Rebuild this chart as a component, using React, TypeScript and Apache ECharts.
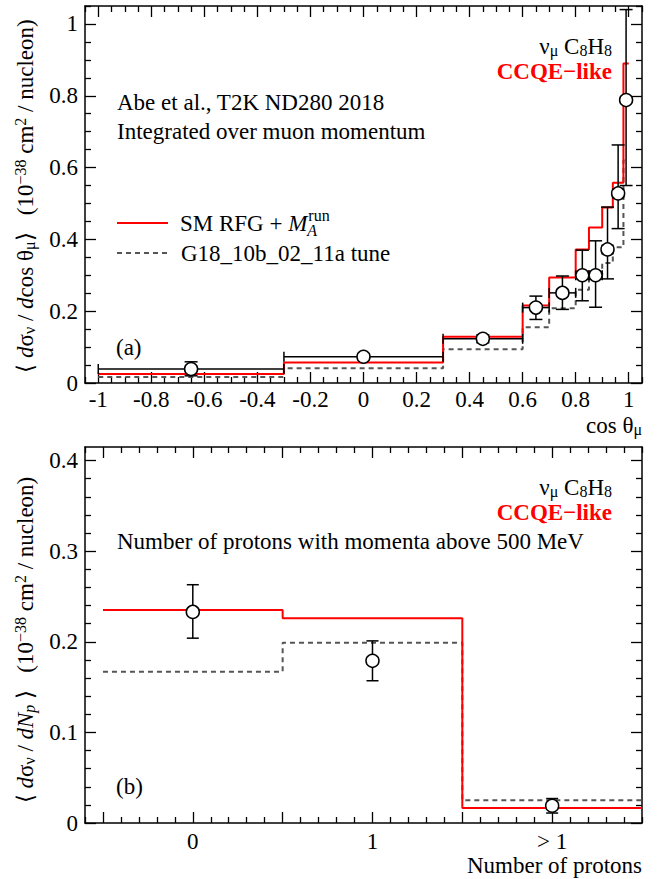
import React, { useEffect, useRef } from 'react';
import * as echarts from 'echarts';

// ---------- data: panel (a) cos theta_mu ----------
const cosEdges = [-1, -0.3, 0.3, 0.6, 0.7, 0.8, 0.85, 0.9, 0.94, 0.98, 1.0];
const cosSM = [0.025, 0.057, 0.129, 0.216, 0.294, 0.372, 0.433, 0.489, 0.558, 0.89];
const cosG18 = [0.017, 0.041, 0.094, 0.155, 0.208, 0.26, 0.3, 0.334, 0.378, 0.62];
const cosDataX = [-0.65, 0, 0.45, 0.65, 0.75, 0.825, 0.875, 0.92, 0.96, 0.99];
const cosDataY = [0.039, 0.073, 0.123, 0.21, 0.251, 0.3, 0.3, 0.372, 0.528, 0.788];
const cosDataLo = [0.02, 0.066, 0.112, 0.177, 0.205, 0.229, 0.211, 0.29, 0.43, 0.55];
const cosDataHi = [0.059, 0.08, 0.134, 0.242, 0.298, 0.37, 0.396, 0.49, 0.663, 1.04];
const cosXTicks = [-1, -0.8, -0.6, -0.4, -0.2, 0, 0.2, 0.4, 0.6, 0.8, 1];
const cosYTicks = [0, 0.2, 0.4, 0.6, 0.8, 1];

// ---------- data: panel (b) number of protons ----------
const npEdges = [-0.5, 0.5, 1.5, 2.5];
const npX = [0, 1, 2];
const npCats = ['0', '1', '> 1'];
const npSM = [0.235, 0.226, 0.0166];
const npG18 = [0.167, 0.199, 0.025];
const npDataY = [0.233, 0.179, 0.019];
const npDataLo = [0.204, 0.157, 0.011];
const npDataHi = [0.263, 0.201, 0.027];
const npXTicks = [-0.5, 0, 0.5, 1, 1.5, 2];
const npYTicks = [0, 0.1, 0.2, 0.3, 0.4];

const SERIF = 'Liberation Serif';
const FS = 23;
const TFS = 23;
const SFS = 16;

function steps(a: number, b: number, step: number): number[] {
  const out: number[] = [];
  const k0 = Math.ceil(a / step - 1e-9);
  const k1 = Math.floor(b / step + 1e-9);
  for (let k = k0; k <= k1; k++) out.push(+(k * step).toFixed(5));
  return out;
}
function minorOf(all: number[], major: number[]) {
  return all.filter((v) => !major.some((m) => Math.abs(m - v) < 1e-6));
}
function stepData(edges: number[], vals: number[]) {
  const d = vals.map((v, i) => [edges[i], v]);
  d.push([edges[edges.length - 1], vals[vals.length - 1]]);
  return d;
}

function makeAxes(
  dim: 'x' | 'y',
  gridIndex: number,
  min: number,
  max: number,
  major: number[],
  minor: number[],
  labels: number[],
  fmt: (v: number) => string,
  labelMargin: number
) {
  const posA = dim === 'x' ? 'bottom' : 'left';
  const posB = dim === 'x' ? 'top' : 'right';
  const base = {
    gridIndex,
    type: 'value',
    min,
    max,
    splitLine: { show: false },
    axisPointer: { show: false },
  };
  const line = { show: true, onZero: false, lineStyle: { color: '#000', width: 1.5 } };
  const noLine = { show: false, onZero: false };
  const tMaj = { show: true, inside: true, length: 11, customValues: major, lineStyle: { color: '#000', width: 1.3 } };
  const tMin = { show: true, inside: true, length: 6, customValues: minor, lineStyle: { color: '#000', width: 1.3 } };
  return [
    {
      ...base,
      position: posA,
      axisLine: line,
      axisTick: tMaj,
      axisLabel: {
        show: true,
        customValues: labels,
        formatter: fmt,
        color: '#000',
        fontFamily: SERIF,
        fontSize: TFS,
        margin: labelMargin,
      },
    },
    { ...base, position: posA, axisLine: noLine, axisTick: tMin, axisLabel: { show: false } },
    { ...base, position: posB, axisLine: line, axisTick: tMaj, axisLabel: { show: false } },
    { ...base, position: posB, axisLine: noLine, axisTick: tMin, axisLabel: { show: false } },
  ];
}

function errRender(withX: boolean, capY: number) {
  return (params: any, api: any) => {
    const x = api.value(0);
    const y = api.value(1);
    const lo = api.value(2);
    const hi = api.value(3);
    const c = api.coord([x, y]);
    const pl = api.coord([x, lo]);
    const ph = api.coord([x, hi]);
    const r = 6.5;
    const st = { stroke: '#000', lineWidth: 1.5 };
    const ch: any[] = [];
    if (c[1] - r > ph[1]) {
      ch.push({ type: 'line', shape: { x1: c[0], y1: ph[1], x2: c[0], y2: c[1] - r }, style: st });
    }
    ch.push({ type: 'line', shape: { x1: c[0] - capY, y1: ph[1], x2: c[0] + capY, y2: ph[1] }, style: st });
    if (pl[1] > c[1] + r) {
      ch.push({ type: 'line', shape: { x1: c[0], y1: c[1] + r, x2: c[0], y2: pl[1] }, style: st });
    }
    ch.push({ type: 'line', shape: { x1: c[0] - capY, y1: pl[1], x2: c[0] + capY, y2: pl[1] }, style: st });
    if (withX) {
      const a = api.coord([api.value(4), y]);
      const b = api.coord([api.value(5), y]);
      if (c[0] - r > a[0]) ch.push({ type: 'line', shape: { x1: a[0], y1: c[1], x2: c[0] - r, y2: c[1] }, style: st });
      if (b[0] > c[0] + r) ch.push({ type: 'line', shape: { x1: c[0] + r, y1: c[1], x2: b[0], y2: c[1] }, style: st });
      ch.push({ type: 'line', shape: { x1: a[0], y1: c[1] - 5, x2: a[0], y2: c[1] + 5 }, style: st });
      ch.push({ type: 'line', shape: { x1: b[0], y1: c[1] - 5, x2: b[0], y2: c[1] + 5 }, style: st });
    }
    ch.push({ type: 'circle', shape: { cx: c[0], cy: c[1], r }, style: { fill: '#fff', stroke: '#000', lineWidth: 1.5 } });
    return { type: 'group', children: ch };
  };
}

const rich = {
  n: { fontFamily: SERIF, fontSize: FS, lineHeight: 25, verticalAlign: 'middle', fill: '#000' },
  i: { fontFamily: SERIF, fontSize: FS, fontStyle: 'italic', lineHeight: 25, verticalAlign: 'middle', fill: '#000' },
  sub: { fontFamily: SERIF, fontSize: SFS, lineHeight: 11, verticalAlign: 'bottom', fill: '#000' },
  isub: { fontFamily: SERIF, fontSize: SFS, fontStyle: 'italic', lineHeight: 11, verticalAlign: 'bottom', fill: '#000' },
  sup: { fontFamily: SERIF, fontSize: SFS, lineHeight: 13, verticalAlign: 'top', fill: '#000' },
  nL: { fontFamily: SERIF, fontSize: FS, lineHeight: 31, verticalAlign: 'middle', fill: '#000' },
  iL: { fontFamily: SERIF, fontSize: FS, fontStyle: 'italic', lineHeight: 31, verticalAlign: 'middle', fill: '#000' },
  subA: { fontFamily: SERIF, fontSize: SFS, fontStyle: 'italic', lineHeight: 11, verticalAlign: 'bottom', width: 1, fill: '#000' },
  supR: { fontFamily: SERIF, fontSize: SFS, lineHeight: 7, verticalAlign: 'top', fill: '#000' },
};

function txt(x: number, y: number, text: string, extra: any = {}) {
  const style: any = {
    text,
    fill: '#000',
    fontFamily: SERIF,
    fontSize: FS,
    align: 'left',
    verticalAlign: 'middle',
    ...extra,
  };
  if (text.indexOf('{') >= 0) style.rich = rich;
  return { type: 'text', x, y, silent: true, style };
}

export default function App() {
  const ref = useRef<HTMLDivElement>(null);
  useEffect(() => {
    document.body.style.margin = '0';
    if (!ref.current) return;
    const chart = echarts.init(ref.current, undefined, { renderer: 'svg' });

    const trim = (v: number) => String(+v.toFixed(3));
    const topXAll = steps(-1.05, 1.05, 0.05);
    const topYAll = steps(0, 1.05, 0.05);
    const botXAll = steps(-0.6, 2.5, 0.1);
    const botYAll = steps(0, 0.415, 0.02);

    const xAxis = [
      ...makeAxes('x', 0, -1.05, 1.05, cosXTicks, minorOf(topXAll, cosXTicks), cosXTicks, trim, 5),
      ...makeAxes('x', 1, -0.6, 2.5, npXTicks, minorOf(botXAll, npXTicks), npX, (v: number) => npCats[Math.round(v)], 7),
    ];
    const yAxis = [
      ...makeAxes('y', 0, 0, 1.05, cosYTicks, minorOf(topYAll, cosYTicks), cosYTicks, trim, 7),
      ...makeAxes('y', 1, 0, 0.415, npYTicks, minorOf(botYAll, npYTicks), npYTicks, trim, 7),
    ];

    const cosErr = cosDataX.map((x, i) => [x, cosDataY[i], cosDataLo[i], cosDataHi[i], cosEdges[i], cosEdges[i + 1]]);
    const npErr = npX.map((x, i) => [x, npDataY[i], npDataLo[i], npDataHi[i], npEdges[i], npEdges[i + 1]]);

    const redStyle = { color: '#ff0000', width: 2 };
    const grayStyle = { color: '#555555', width: 2, type: [5, 4] };

    const series: any[] = [
      { type: 'line', name: 'G18 a', xAxisIndex: 0, yAxisIndex: 0, step: 'end', symbol: 'none', data: stepData(cosEdges, cosG18), lineStyle: grayStyle, z: 2 },
      { type: 'line', name: 'SM a', xAxisIndex: 0, yAxisIndex: 0, step: 'end', symbol: 'none', data: stepData(cosEdges, cosSM), lineStyle: redStyle, z: 3 },
      { type: 'custom', name: 'data a', xAxisIndex: 0, yAxisIndex: 0, data: cosErr, renderItem: errRender(true, 6.5), z: 5, clip: false },
      { type: 'line', name: 'G18 b', xAxisIndex: 4, yAxisIndex: 4, step: 'end', symbol: 'none', data: stepData(npEdges, npG18), lineStyle: grayStyle, z: 2 },
      { type: 'line', name: 'SM b', xAxisIndex: 4, yAxisIndex: 4, step: 'end', symbol: 'none', data: stepData(npEdges, npSM), lineStyle: redStyle, z: 3 },
      { type: 'custom', name: 'data b', xAxisIndex: 4, yAxisIndex: 4, data: npErr, renderItem: errRender(false, 6), z: 5, clip: false },
    ];

    const yTitleA =
      '{n|⟨ }{i|d}{n|σ}{sub|ν}{n| / }{i|d}{n|cos θ}{sub|μ}{n|⟩   (10}{sup|−38}{n| cm}{sup|2}{n| / nucleon)}';
    const yTitleB =
      '{n|⟨ }{i|d}{n|σ}{sub|ν}{n| / }{i|dN}{isub|p}{n| ⟩   (10}{sup|−38}{n| cm}{sup|2}{n| / nucleon)}';
    const nuLabel = '{n|ν}{sub|μ}{n| C}{sub|8}{n|H}{sub|8}';

    const graphic: any[] = [
      // panel (a)
      { ...txt(25, 196, yTitleA, { align: 'center' }), rotation: Math.PI / 2 },
      txt(612, 46, nuLabel, { align: 'right' }),
      txt(612, 71, 'CCQE−like', { align: 'right', fill: '#ff0000', fontWeight: 'bold' }),
      txt(117, 102, 'Abe et al., T2K ND280 2018'),
      txt(117, 131, 'Integrated over muon momentum'),
      { type: 'line', silent: true, shape: { x1: 117, y1: 223, x2: 168, y2: 223 }, style: { stroke: '#ff0000', lineWidth: 2 } },
      { type: 'line', silent: true, shape: { x1: 117, y1: 253, x2: 168, y2: 253 }, style: { stroke: '#555555', lineWidth: 2, lineDash: [5, 4] } },
      txt(180, 223, '{nL|SM RFG + }{iL|M}{subA|A}{supR|run}'),
      txt(181, 253, 'G18_10b_02_11a tune'),
      txt(116, 347, '(a)'),
      txt(642, 425, '{n|cos θ}{sub|μ}', { align: 'right' }),
      // panel (b)
      { ...txt(25, 640, yTitleB, { align: 'center' }), rotation: Math.PI / 2 },
      txt(612, 487, nuLabel, { align: 'right' }),
      txt(612, 512, 'CCQE−like', { align: 'right', fill: '#ff0000', fontWeight: 'bold' }),
      txt(117, 541, 'Number of protons with momenta above 500 MeV'),
      txt(116, 786, '(b)'),
      txt(642, 865, 'Number of protons', { align: 'right' }),
    ];

    chart.setOption({
      animation: false,
      backgroundColor: '#fff',
      grid: [
        { left: 85, top: 6, width: 557, height: 377 },
        { left: 85, top: 447, width: 557, height: 376 },
      ],
      xAxis,
      yAxis,
      series,
      graphic,
    });
    return () => chart.dispose();
  }, []);
  return <div ref={ref} style={{ width: 657, height: 879 }} />;
}
